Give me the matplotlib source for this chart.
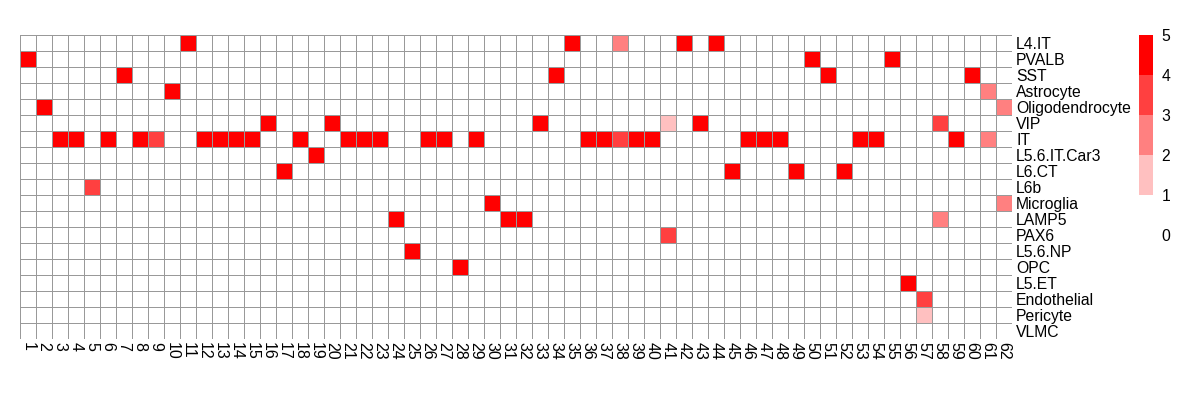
import matplotlib
matplotlib.use("Agg")
import matplotlib.pyplot as plt
import numpy as np
from matplotlib.colors import BoundaryNorm, ListedColormap

plt.rcParams["font.family"] = ["Liberation Sans", "DejaVu Sans"]

cell_types = [
    "L4.IT", "PVALB", "SST", "Astrocyte", "Oligodendrocyte", "VIP", "IT",
    "L5.6.IT.Car3", "L6.CT", "L6b", "Microglia", "LAMP5", "PAX6", "L5.6.NP",
    "OPC", "L5.ET", "Endothelial", "Pericyte", "VLMC",
]
clusters = [str(i) for i in range(1, 63)]

# non-zero cells: (cell type, cluster, score)
hit_type = (
    ["L4.IT"] * 5
    + ["PVALB"] * 3
    + ["SST"] * 4
    + ["Astrocyte"] * 2
    + ["Oligodendrocyte"] * 2
    + ["VIP"] * 6
    + ["IT"] * 28
    + ["L5.6.IT.Car3"]
    + ["L6.CT"] * 4
    + ["L6b"]
    + ["Microglia"] * 2
    + ["LAMP5"] * 4
    + ["PAX6"]
    + ["L5.6.NP"]
    + ["OPC"]
    + ["L5.ET"]
    + ["Endothelial"]
    + ["Pericyte"]
)
hit_cluster = [
    11, 35, 38, 42, 44,
    1, 50, 55,
    7, 34, 51, 60,
    10, 61,
    2, 62,
    16, 20, 33, 41, 43, 58,
    3, 4, 6, 8, 9, 12, 13, 14, 15, 18, 21, 22, 23, 26, 27, 29,
    36, 37, 38, 39, 40, 46, 47, 48, 53, 54, 59, 61,
    19,
    17, 45, 49, 52,
    5,
    30, 62,
    24, 31, 32, 58,
    41,
    25,
    28,
    56,
    57,
    57,
]
hit_score = [
    4, 4, 2, 4, 4,
    4, 4, 4,
    4, 4, 4, 4,
    4, 2,
    4, 2,
    4, 4, 4, 1, 4, 3,
    4, 4, 4, 4, 3, 4, 4, 4, 4, 4, 4, 4, 4, 4, 4, 4,
    4, 4, 3, 4, 4, 4, 4, 4, 4, 4, 4, 2,
    4,
    4, 4, 4, 4,
    3,
    4, 2,
    4, 4, 4, 2,
    3,
    4,
    4,
    4,
    3,
    1,
]

legend_breaks = [0, 1, 2, 3, 4, 5]
palette = ["#FFFFFF", "#FFC0C0", "#FF8080", "#FF4040", "#FF0000"]

grid = np.zeros((len(cell_types), len(clusters)))
for name, cl, s in zip(hit_type, hit_cluster, hit_score, strict=True):
    grid[cell_types.index(name), cl - 1] = s

cmap = ListedColormap(palette)
norm = BoundaryNorm(legend_breaks, cmap.N)

W, H = 1200, 400
fig = plt.figure(figsize=(W / 100, H / 100), dpi=100)
fig.patch.set_facecolor("white")

ax = fig.add_axes([20 / W, 1 - 339 / H, 992 / W, 304 / H])
ax.pcolormesh(grid, cmap=cmap, norm=norm, edgecolors="#999999", linewidth=0.6)
ax.set_xlim(0, len(clusters))
ax.set_ylim(len(cell_types), 0)
ax.set_xticks(np.arange(len(clusters)) + 0.5, clusters, rotation=270, fontsize=11.5)
ax.set_yticks(np.arange(len(cell_types)) + 0.5, cell_types, fontsize=11.3)
ax.yaxis.tick_right()
ax.tick_params(axis="both", length=0)
ax.tick_params(axis="x", pad=2)
ax.tick_params(axis="y", pad=3)
for sp in ax.spines.values():
    sp.set_visible(False)

# legend bar (0-1 is white, drawn without colour)
lax = fig.add_axes([1139 / W, 1 - 235 / H, 14 / W, 200 / H])
steps = np.array(legend_breaks[1:]) - 0.5
lax.pcolormesh([0, 1], legend_breaks, steps.reshape(-1, 1), cmap=cmap, norm=norm)
lax.set_xlim(0, 1)
lax.set_ylim(0, 5)
lax.set_xticks([])
lax.yaxis.tick_right()
lax.set_yticks(legend_breaks, [str(b) for b in legend_breaks], fontsize=11.3)
lax.tick_params(axis="y", length=0, pad=6)
for sp in lax.spines.values():
    sp.set_visible(False)

fig.savefig("out.png", dpi=100, facecolor="white")
